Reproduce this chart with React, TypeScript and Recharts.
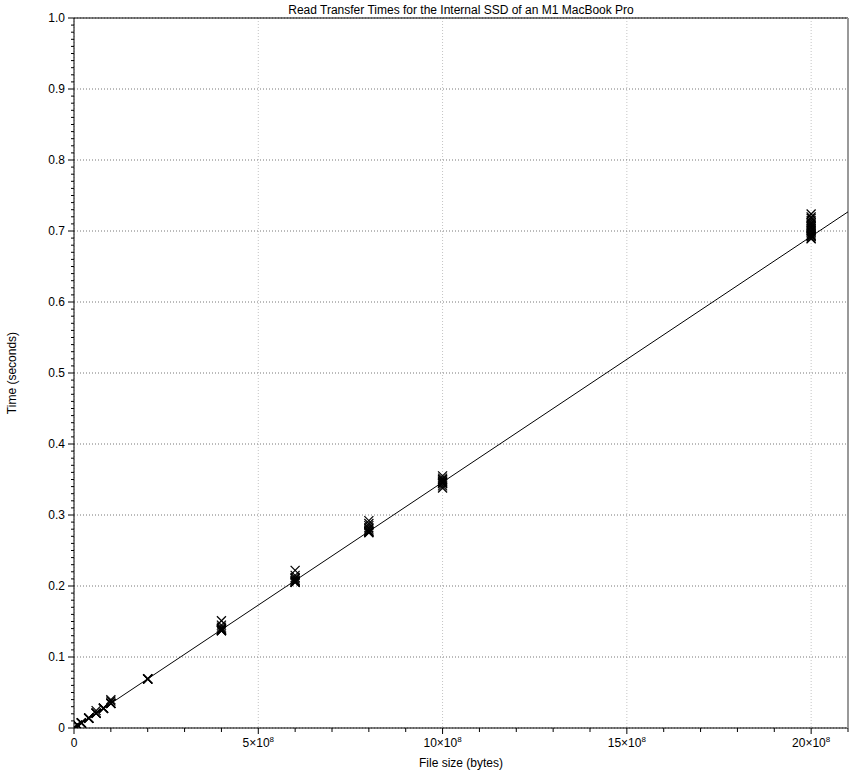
import { ScatterChart, Scatter, XAxis, YAxis, CartesianGrid } from 'recharts'

// file sizes in bytes, and the repeated read times (seconds) measured for each
const times1M = [0.0005, 0.0004, 0.0006, 0.0005, 0.0008]
const times10M = [0.0035, 0.0036, 0.0034, 0.0038, 0.0042]
const times20M = [0.0069, 0.007, 0.0068, 0.0072, 0.0075]
const times40M = [0.0138, 0.014, 0.0137, 0.0142, 0.0139]
const times60M = [0.0207, 0.021, 0.0206, 0.0212, 0.0245]
const times80M = [0.0276, 0.0278, 0.028, 0.0275, 0.0282]
const times100M = [0.0346, 0.0348, 0.035, 0.0345, 0.038, 0.04]
const times200M = [0.0688, 0.069, 0.0692, 0.0689, 0.0695]
const times400M = [0.137, 0.138, 0.139, 0.138, 0.14, 0.142, 0.137, 0.151, 0.145]
const times600M = [0.205, 0.206, 0.207, 0.208, 0.205, 0.21, 0.212, 0.215, 0.222]
const times800M = [0.276, 0.277, 0.278, 0.276, 0.28, 0.282, 0.285, 0.288, 0.292, 0.275]
const times1G = [0.345, 0.346, 0.347, 0.348, 0.35, 0.352, 0.355, 0.344, 0.338, 0.341]
const times2G = [
  0.69, 0.692, 0.694, 0.696, 0.698, 0.7, 0.702, 0.704, 0.706, 0.708, 0.71, 0.712, 0.715, 0.718, 0.72,
  0.724, 0.689, 0.693,
]

const fileSizes = [1e6, 1e7, 2e7, 4e7, 6e7, 8e7, 1e8, 2e8, 4e8, 6e8, 8e8, 1e9, 2e9]
const timesBySize = [
  times1M, times10M, times20M, times40M, times60M, times80M, times100M,
  times200M, times400M, times600M, times800M, times1G, times2G,
]

// least-squares fit line end points
const fitSizes = [0, 2.1e9]
const fitTimes = [0, 0.727]

const xTicks = [0, 5e8, 10e8, 15e8, 20e8]
const xMinorTicks = Array.from({ length: 22 }, (_, i) => i * 1e8)
const yTicks = [0, 0.1, 0.2, 0.3, 0.4, 0.5, 0.6, 0.7, 0.8, 0.9, 1.0]
const yMinorTicks = Array.from({ length: 101 }, (_, i) => i / 100)

const points = fileSizes.flatMap((size, i) => timesBySize[i].map((t) => ({ size, time: t })))
const fitData = fitSizes.map((size, i) => ({ size, time: fitTimes[i] }))

const FONT = '"Liberation Sans", Arial, sans-serif'

function Cross(props: any) {
  const { cx, cy } = props
  const r = 4.5
  return (
    <g stroke='#000' strokeWidth={1.2}>
      <line x1={cx - r} y1={cy - r} x2={cx + r} y2={cy + r} />
      <line x1={cx - r} y1={cy + r} x2={cx + r} y2={cy - r} />
    </g>
  )
}

// draws its own tick mark: long on labelled values, short on the minor ones
function XTick(props: any) {
  const { x, y, payload } = props
  const v = payload.value
  const major = Math.round(v / 1e8) % 5 === 0
  return (
    <g>
      <line x1={x} y1={y} x2={x} y2={y + (major ? 6 : 4)} stroke='#000' />
      {major && (
        <text x={x} y={y + 19} textAnchor='middle' fontSize={12} fontFamily={FONT} fill='#000'>
          {v === 0 ? (
            '0'
          ) : (
            <>
              {`${v / 1e8}×10`}
              <tspan dy={-5} fontSize={8}>
                8
              </tspan>
            </>
          )}
        </text>
      )}
    </g>
  )
}

function YTick(props: any) {
  const { x, y, payload } = props
  const v = payload.value
  const major = Math.round(v * 100) % 10 === 0
  return (
    <g>
      <line x1={x} y1={y} x2={x - (major ? 6 : 3)} y2={y} stroke='#000' />
      {major && (
        <text x={x - 9} y={y + 4} textAnchor='end' fontSize={12} fontFamily={FONT} fill='#000'>
          {v === 0 ? '0' : v.toFixed(1)}
        </text>
      )}
    </g>
  )
}

export default function App() {
  return (
    <div style={{ position: 'absolute', left: 0, top: 0, width: 864, height: 773, background: '#fff' }}>
      <ScatterChart width={864} height={773} margin={{ top: 17, right: 15, bottom: 0, left: 14 }}>
        {/* dotted grid: darker horizontals, lighter verticals */}
        <CartesianGrid
          horizontal={false}
          verticalValues={xTicks}
          stroke='#c4c4c4'
          strokeDasharray='1 2'
        />
        <CartesianGrid
          vertical={false}
          horizontalValues={yTicks}
          stroke='#777'
          strokeDasharray='1 2'
        />

        <XAxis
          type='number'
          dataKey='size'
          domain={[0, 2.1e9]}
          allowDataOverflow
          ticks={xMinorTicks}
          interval={0}
          tick={<XTick />}
          tickSize={0}
          tickMargin={0}
          tickLine={false}
          axisLine={{ stroke: '#000' }}
          height={45}
          label={{
            value: 'File size (bytes)',
            position: 'insideBottom',
            offset: 6,
            fontSize: 12,
            fontFamily: FONT,
            fill: '#000',
          }}
        />
        <YAxis
          type='number'
          dataKey='time'
          domain={[0, 1]}
          allowDataOverflow
          ticks={yMinorTicks}
          interval={0}
          tick={<YTick />}
          tickSize={0}
          tickMargin={0}
          tickLine={false}
          axisLine={{ stroke: '#000' }}
          width={60}
          label={{
            value: 'Time (seconds)',
            angle: -90,
            position: 'insideLeft',
            offset: -2,
            style: { textAnchor: 'middle' },
            fontSize: 12,
            fontFamily: FONT,
            fill: '#000',
          }}
        />

        {/* frame: top and right borders */}
        <XAxis
          xAxisId='top'
          orientation='top'
          type='number'
          domain={[0, 2.1e9]}
          allowDataOverflow
          tick={false}
          tickLine={false}
          axisLine={{ stroke: '#000' }}
          height={1}
        />
        <YAxis
          yAxisId='right'
          orientation='right'
          type='number'
          domain={[0, 1]}
          allowDataOverflow
          tick={false}
          tickLine={false}
          axisLine={{ stroke: '#999', strokeWidth: 2 }}
          width={1}
        />

        <Scatter
          data={fitData}
          line={{ stroke: '#000', strokeWidth: 1 }}
          shape={() => <g />}
          isAnimationActive={false}
        />
        <Scatter data={points} shape={<Cross />} isAnimationActive={false} />

        <text x={461} y={14} textAnchor='middle' fontSize={12} fontFamily={FONT} fill='#000'>
          Read Transfer Times for the Internal SSD of an M1 MacBook Pro
        </text>
      </ScatterChart>
    </div>
  )
}
